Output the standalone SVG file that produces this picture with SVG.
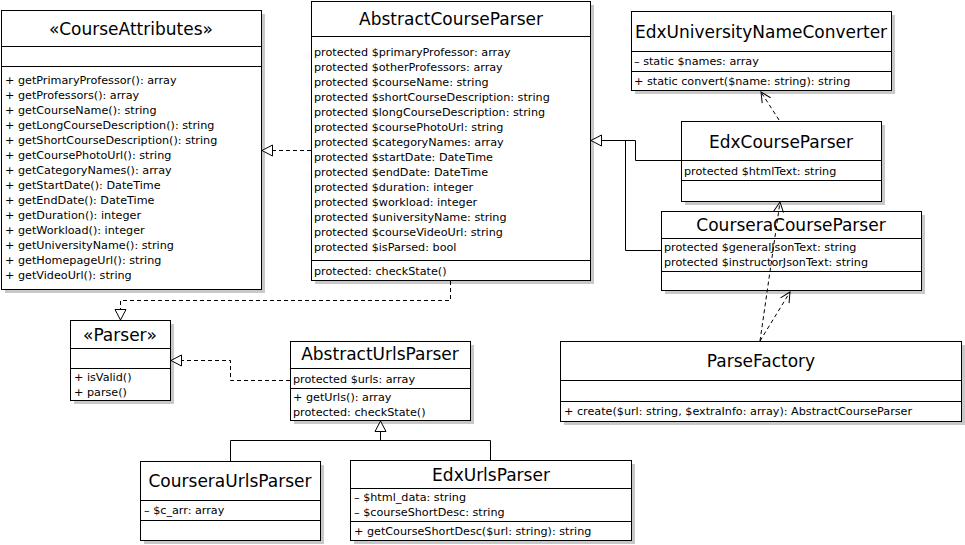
<svg xmlns="http://www.w3.org/2000/svg" width="965" height="545" viewBox="0 0 965 545">
<style>
.sh{fill:#c8c8c8;stroke:none}
.bx{fill:#fff;stroke:#000;stroke-width:1}
.dv{stroke:#000;stroke-width:1}
.t{font-family:"DejaVu Sans",Verdana,sans-serif;font-size:17px;fill:#000;text-anchor:middle}
.m{font-family:"DejaVu Sans",Verdana,sans-serif;font-size:11.2px;fill:#000}
.ln{fill:none;stroke:#000;stroke-width:1}
.ds{fill:none;stroke:#000;stroke-width:1;stroke-dasharray:4 3}
</style>
<defs>
<marker id="tri" markerUnits="userSpaceOnUse" markerWidth="14" markerHeight="14" refX="11" refY="6" orient="auto" overflow="visible">
<path d="M0.5,0.5 L11,6 L0.5,11.5 z" fill="#fff" stroke="#000" stroke-width="1" stroke-dasharray="none"/>
</marker>
<marker id="open" markerUnits="userSpaceOnUse" markerWidth="14" markerHeight="14" refX="10" refY="5" orient="auto" overflow="visible">
<path d="M0,0 L10,5 L0,10" fill="none" stroke="#000" stroke-width="1" stroke-dasharray="none"/>
</marker>
</defs>
<rect width="965" height="545" fill="#fff"/>

<g id="CourseAttributes">
<rect class="sh" x="5" y="14" width="260" height="279"/>
<rect class="bx" x="1.5" y="10.5" width="260" height="279"/>
<line class="dv" x1="1.5" y1="46.5" x2="261.5" y2="46.5"/>
<line class="dv" x1="1.5" y1="66.5" x2="261.5" y2="66.5"/>
<text class="t" x="131" y="35">«CourseAttributes»</text>
<text class="m" x="5" y="84">+ getPrimaryProfessor(): array</text>
<text class="m" x="5" y="99">+ getProfessors(): array</text>
<text class="m" x="5" y="114">+ getCourseName(): string</text>
<text class="m" x="5" y="129">+ getLongCourseDescription(): string</text>
<text class="m" x="5" y="144">+ getShortCourseDescription(): string</text>
<text class="m" x="5" y="159">+ getCoursePhotoUrl(): string</text>
<text class="m" x="5" y="174">+ getCategoryNames(): array</text>
<text class="m" x="5" y="189">+ getStartDate(): DateTime</text>
<text class="m" x="5" y="204">+ getEndDate(): DateTime</text>
<text class="m" x="5" y="219">+ getDuration(): integer</text>
<text class="m" x="5" y="234">+ getWorkload(): integer</text>
<text class="m" x="5" y="249">+ getUniversityName(): string</text>
<text class="m" x="5" y="264">+ getHomepageUrl(): string</text>
<text class="m" x="5" y="279">+ getVideoUrl(): string</text>
</g>

<g id="AbstractCourseParser">
<rect class="sh" x="315" y="5" width="279" height="279"/>
<rect class="bx" x="311.5" y="1.5" width="279" height="279"/>
<line class="dv" x1="311.5" y1="36.5" x2="590.5" y2="36.5"/>
<line class="dv" x1="311.5" y1="260.5" x2="590.5" y2="260.5"/>
<text class="t" x="451" y="25">AbstractCourseParser</text>
<text class="m" x="314" y="56">protected $primaryProfessor: array</text>
<text class="m" x="314" y="71">protected $otherProfessors: array</text>
<text class="m" x="314" y="86">protected $courseName: string</text>
<text class="m" x="314" y="101">protected $shortCourseDescription: string</text>
<text class="m" x="314" y="116">protected $longCourseDescription: string</text>
<text class="m" x="314" y="131">protected $coursePhotoUrl: string</text>
<text class="m" x="314" y="146">protected $categoryNames: array</text>
<text class="m" x="314" y="161">protected $startDate: DateTime</text>
<text class="m" x="314" y="176">protected $endDate: DateTime</text>
<text class="m" x="314" y="191">protected $duration: integer</text>
<text class="m" x="314" y="206">protected $workload: integer</text>
<text class="m" x="314" y="221">protected $universityName: string</text>
<text class="m" x="314" y="236">protected $courseVideoUrl: string</text>
<text class="m" x="314" y="251">protected $isParsed: bool</text>
<text class="m" x="314" y="275">protected: checkState()</text>
</g>

<g id="EdxUniversityNameConverter">
<rect class="sh" x="635" y="15" width="260" height="79"/>
<rect class="bx" x="631.5" y="11.5" width="260" height="79"/>
<line class="dv" x1="631.5" y1="51.5" x2="891.5" y2="51.5"/>
<line class="dv" x1="631.5" y1="71.5" x2="891.5" y2="71.5"/>
<text class="t" x="761" y="38">EdxUniversityNameConverter</text>
<text class="m" x="634" y="65">– static $names: array</text>
<text class="m" x="634" y="85">+ static convert($name: string): string</text>
</g>

<g id="EdxCourseParser">
<rect class="sh" x="685" y="125" width="200" height="80"/>
<rect class="bx" x="681.5" y="121.5" width="200" height="80"/>
<line class="dv" x1="681.5" y1="160.5" x2="881.5" y2="160.5"/>
<line class="dv" x1="681.5" y1="180.5" x2="881.5" y2="180.5"/>
<text class="t" x="781" y="148">EdxCourseParser</text>
<text class="m" x="684" y="175">protected $htmlText: string</text>
</g>

<g id="CourseraCourseParser">
<rect class="sh" x="665" y="215" width="260" height="79"/>
<rect class="bx" x="661.5" y="211.5" width="260" height="79"/>
<line class="dv" x1="661.5" y1="238.5" x2="921.5" y2="238.5"/>
<line class="dv" x1="661.5" y1="271.5" x2="921.5" y2="271.5"/>
<text class="t" x="791" y="231">CourseraCourseParser</text>
<text class="m" x="664" y="251">protected $generalJsonText: string</text>
<text class="m" x="664" y="266">protected $instructorJsonText: string</text>
</g>

<g id="ParseFactory">
<rect class="sh" x="564" y="345" width="401" height="80"/>
<rect class="bx" x="560.5" y="341.5" width="401" height="80"/>
<line class="dv" x1="560.5" y1="380.5" x2="961.5" y2="380.5"/>
<line class="dv" x1="560.5" y1="401.5" x2="961.5" y2="401.5"/>
<text class="t" x="761" y="367">ParseFactory</text>
<text class="m" x="564" y="415">+ create($url: string, $extraInfo: array): AbstractCourseParser</text>
</g>

<g id="Parser">
<rect class="sh" x="74" y="324" width="100" height="80"/>
<rect class="bx" x="70.5" y="320.5" width="100" height="80"/>
<line class="dv" x1="70.5" y1="348.5" x2="170.5" y2="348.5"/>
<line class="dv" x1="70.5" y1="368.5" x2="170.5" y2="368.5"/>
<text class="t" x="120" y="341">«Parser»</text>
<text class="m" x="74" y="381">+ isValid()</text>
<text class="m" x="74" y="396">+ parse()</text>
</g>

<g id="AbstractUrlsParser">
<rect class="sh" x="294" y="345" width="180" height="79"/>
<rect class="bx" x="290.5" y="341.5" width="180" height="79"/>
<line class="dv" x1="290.5" y1="368.5" x2="470.5" y2="368.5"/>
<line class="dv" x1="290.5" y1="388.5" x2="470.5" y2="388.5"/>
<text class="t" x="380" y="360">AbstractUrlsParser</text>
<text class="m" x="293" y="383">protected $urls: array</text>
<text class="m" x="293" y="401">+ getUrls(): array</text>
<text class="m" x="293" y="416">protected: checkState()</text>
</g>

<g id="CourseraUrlsParser">
<rect class="sh" x="144" y="465" width="180" height="79"/>
<rect class="bx" x="140.5" y="461.5" width="180" height="79"/>
<line class="dv" x1="140.5" y1="500.5" x2="320.5" y2="500.5"/>
<line class="dv" x1="140.5" y1="520.5" x2="320.5" y2="520.5"/>
<text class="t" x="230" y="487">CourseraUrlsParser</text>
<text class="m" x="144" y="514">– $c_arr: array</text>
</g>

<g id="EdxUrlsParser">
<rect class="sh" x="354" y="464" width="281" height="80"/>
<rect class="bx" x="350.5" y="460.5" width="281" height="80"/>
<line class="dv" x1="350.5" y1="488.5" x2="631.5" y2="488.5"/>
<line class="dv" x1="350.5" y1="521.5" x2="631.5" y2="521.5"/>
<text class="t" x="491" y="481">EdxUrlsParser</text>
<text class="m" x="354" y="501">– $html_data: string</text>
<text class="m" x="354" y="516">– $courseShortDesc: string</text>
<text class="m" x="354" y="535">+ getCourseShortDesc($url: string): string</text>
</g>

<g id="connectors">
<path class="ds" d="M311,150.5 H262" marker-end="url(#tri)"/>
<path class="ds" d="M450.5,281 V300.5 H120.5 V320" marker-end="url(#tri)"/>
<path class="ds" d="M290,380.5 H230.5 V360.5 H171" marker-end="url(#tri)"/>
<path class="ln" d="M230.5,461 V440.5 H490.5 V460"/>
<path class="ln" d="M380.5,440.5 V421" marker-end="url(#tri)"/>
<path class="ln" d="M681,160.5 H635.5 V140.5 H591" marker-end="url(#tri)"/>
<path class="ln" d="M661,250.5 H625.5 V140.5"/>
<path class="ds" d="M779,120 L761,92" marker-end="url(#open)"/>
<path class="ds" d="M760,341 L780,202" marker-end="url(#open)"/>
<path class="ds" d="M760,341 L790,292" marker-end="url(#open)"/>
</g>
</svg>
